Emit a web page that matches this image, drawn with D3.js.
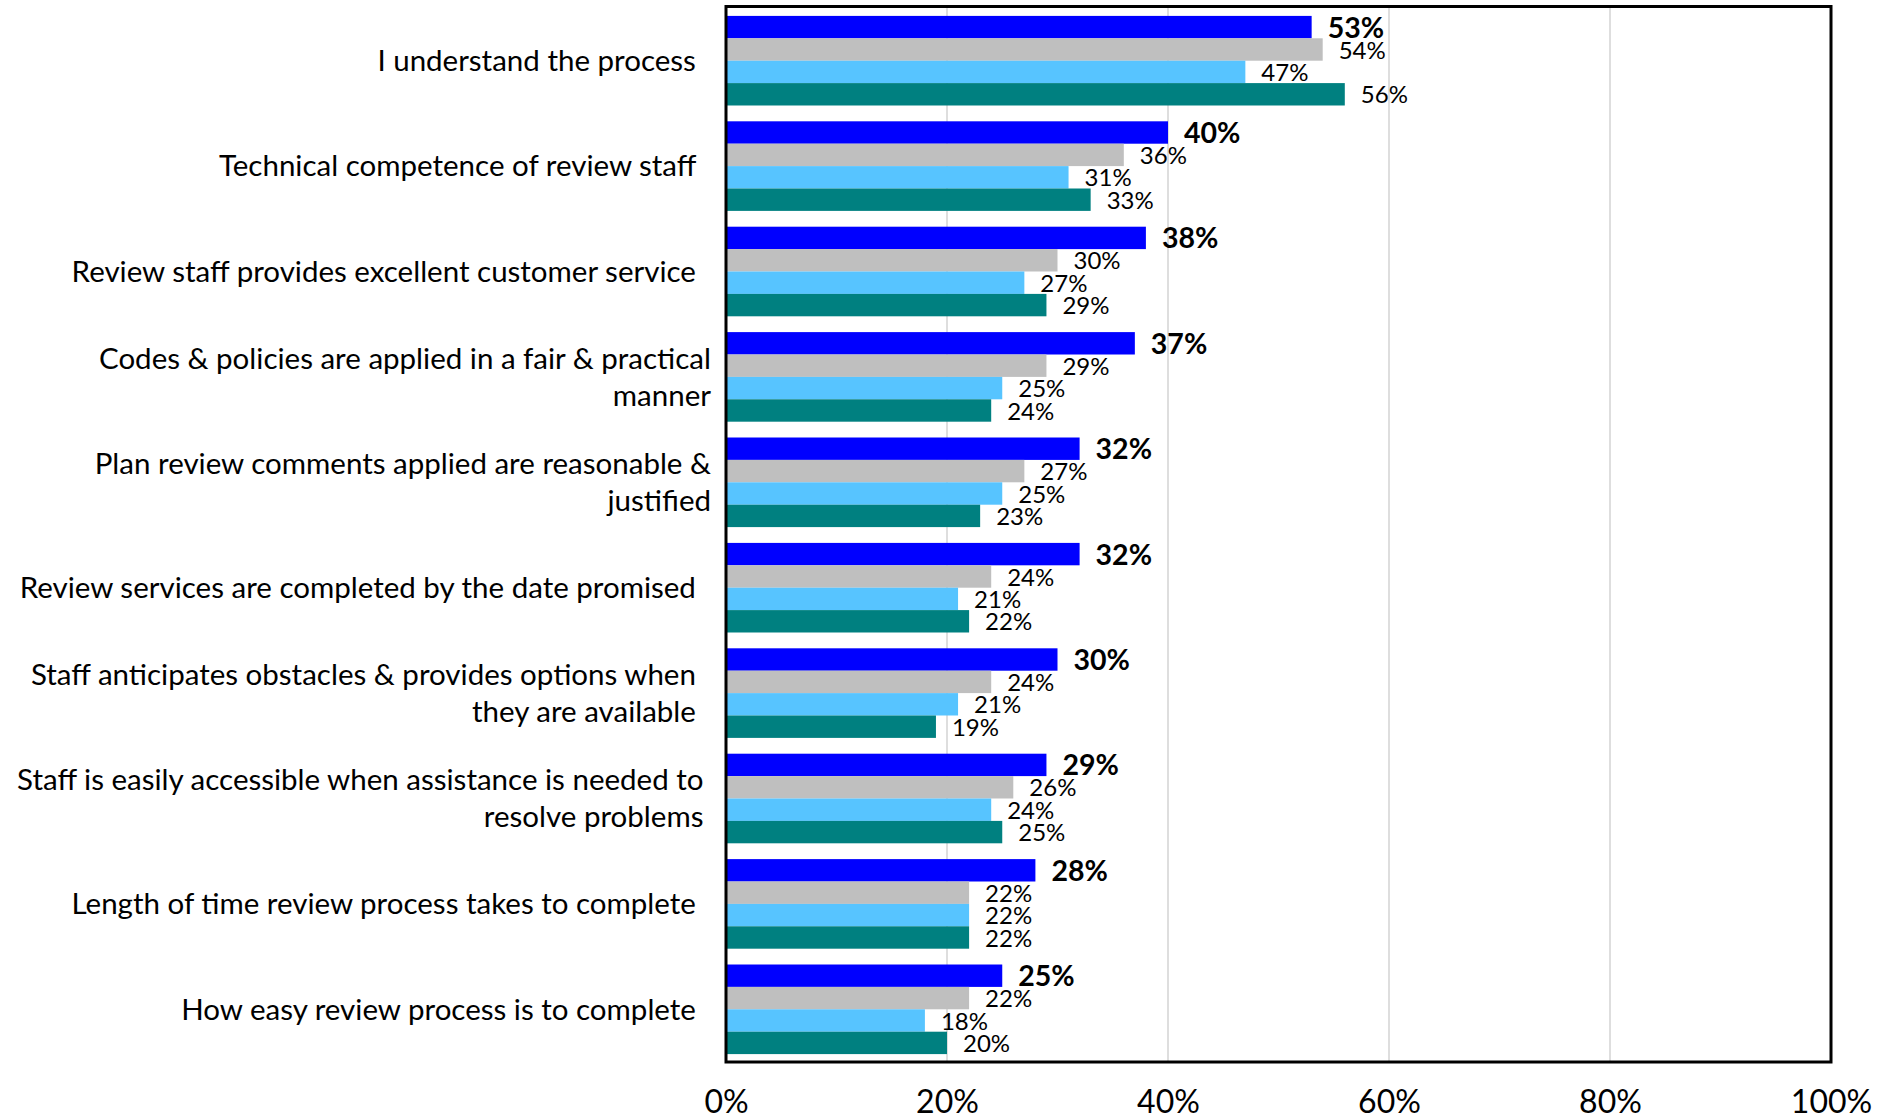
<!DOCTYPE html>
<html>
<head>
<meta charset="utf-8">
<script src="https://cdn.jsdelivr.net/npm/d3@7"></script>
<style>
  html, body { margin: 0; padding: 0; background: #fff; }
  svg { display: block; }
  text { font-family: Lato, "Open Sans", sans-serif; fill: #000; }
  .cat { white-space: pre; }
</style>
</head>
<body>
<svg id="chart" width="1895" height="1119"></svg>
<script>
// Survey statements (line breaks mark where long labels wrap)
const categories = [
  "I understand the process  ",
  "Technical competence of review staff  ",
  "Review staff provides excellent customer service  ",
  "Codes & policies are applied in a fair & practical\nmanner",
  "Plan review comments applied are reasonable &\njustified",
  "Review services are completed by the date promised  ",
  "Staff anticipates obstacles & provides options when  \nthey are available  ",
  "Staff is easily accessible when assistance is needed to \nresolve problems ",
  "Length of time review process takes to complete  ",
  "How easy review process is to complete  "
];

// Percent agreeing, four series per statement
const seriesA = [53, 40, 38, 37, 32, 32, 30, 29, 28, 25];
const seriesB = [54, 36, 30, 29, 27, 24, 24, 26, 22, 22];
const seriesC = [47, 31, 27, 25, 25, 21, 21, 24, 22, 18];
const seriesD = [56, 33, 29, 24, 23, 22, 19, 25, 22, 20];

const seriesKeys = ["A", "B", "C", "D"];
const seriesColors = ["#0000FF", "#BFBFBF", "#57C4FF", "#008080"];
const xTicks = [0, 20, 40, 60, 80, 100];

const rows = categories.map((c, i) => ({
  label: c,
  values: [seriesA[i], seriesB[i], seriesC[i], seriesD[i]]
}));

const svg = d3.select("#chart");
const plot = { left: 726, right: 1831, top: 8, bottom: 1062 };

const x = d3.scaleLinear().domain([0, 100]).range([plot.left, plot.right]);
const y = d3.scaleBand()
  .domain(d3.range(categories.length))
  .range([plot.top, plot.bottom])
  .paddingInner(0.15)
  .paddingOuter(0.075);
const ySub = d3.scaleBand()
  .domain(seriesKeys)
  .range([0, y.bandwidth()]);

// vertical gridlines
svg.append("g")
  .selectAll("line")
  .data(xTicks.slice(1, -1))
  .join("line")
  .attr("x1", d => x(d)).attr("x2", d => x(d))
  .attr("y1", plot.top).attr("y2", plot.bottom)
  .attr("stroke", "#C8C8C8")
  .attr("stroke-width", 1.2);

// bar groups
const groups = svg.append("g")
  .selectAll("g")
  .data(rows)
  .join("g")
  .attr("transform", (d, i) => `translate(0,${y(i)})`);

groups.selectAll("rect")
  .data(d => d.values.map((v, j) => ({ v, j })))
  .join("rect")
  .attr("x", x(0))
  .attr("y", d => ySub(seriesKeys[d.j]))
  .attr("width", d => x(d.v) - x(0))
  .attr("height", ySub.bandwidth())
  .attr("fill", d => seriesColors[d.j]);

// value labels at bar ends
groups.selectAll("text.val")
  .data(d => d.values.map((v, j) => ({ v, j })))
  .join("text")
  .attr("class", "val")
  .attr("x", d => x(d.v) + 16)
  .attr("y", d => ySub(seriesKeys[d.j]) + ySub.bandwidth() / 2)
  .attr("dy", d => d.j === 0 ? "0.37em" : "0.38em")
  .style("font-size", d => d.j === 0 ? "28.5px" : "24px")
  .style("font-weight", d => d.j === 0 ? "700" : "400")
  .text(d => d.v + "%");

// category labels
const labelX = plot.left - 15;
const lineGap = 37;
svg.append("g")
  .selectAll("text")
  .data(rows)
  .join("text")
  .attr("class", "cat")
  .attr("text-anchor", "end")
  .style("font-size", "29.5px")
  .each(function (d, i) {
    const lines = d.label.split("\n");
    const cy = y(i) + y.bandwidth() / 2;
    const t = d3.select(this);
    lines.forEach((ln, k) => {
      t.append("tspan")
        .attr("x", labelX)
        .attr("y", cy + (k - (lines.length - 1) / 2) * lineGap)
        .attr("dy", "0.35em")
        .text(ln);
    });
  });

// plot frame
svg.append("rect")
  .attr("x", plot.left)
  .attr("y", plot.top - 1.5)
  .attr("width", plot.right - plot.left)
  .attr("height", plot.bottom - plot.top + 1.5)
  .attr("fill", "none")
  .attr("stroke", "#000")
  .attr("stroke-width", 3);

// x axis labels
const xAxis = d3.axisBottom(x)
  .tickValues(xTicks)
  .tickSize(0)
  .tickPadding(0)
  .tickFormat(d => d + "%");

const axisG = svg.append("g")
  .attr("transform", `translate(0,${plot.bottom})`)
  .call(xAxis);
axisG.select(".domain").remove();
axisG.selectAll("text")
  .attr("y", 51)
  .attr("dy", 0)
  .style("font-size", "32px")
  .style("font-family", "Lato, 'Open Sans', sans-serif")
  .attr("fill", "#000");
</script>
</body>
</html>
